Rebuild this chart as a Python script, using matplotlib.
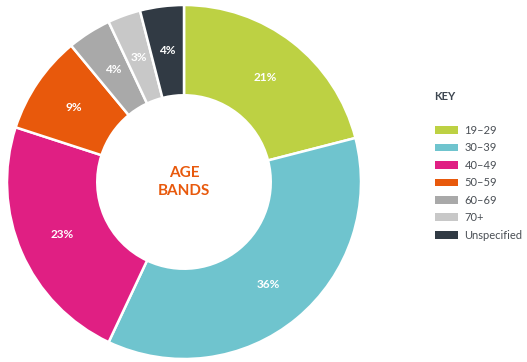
import matplotlib
matplotlib.use("Agg")
import matplotlib.pyplot as plt
from matplotlib.patches import Patch

plt.rcParams['font.family'] = ['Lato', 'DejaVu Sans']

categories = ["19–29", "30–39", "40–49", "50–59", "60–69", "70+", "Unspecified"]
values = [21, 36, 23, 9, 4, 3, 4]
colors = ["#BDD143", "#6FC4CE", "#E01F83", "#E8590C", "#A9A9A9", "#C8C8C8", "#313A44"]

W, H = 527, 362
fig = plt.figure(figsize=(W / 100, H / 100), dpi=100)
cx, cy, r = 184, 182, 177
ax = fig.add_axes([(cx - r) / W, (H - cy - r) / H, 2 * r / W, 2 * r / H])

wedges, texts, autotexts = ax.pie(
    values, colors=colors, startangle=90, counterclock=False,
    autopct=lambda p: f"{p:.0f}%", pctdistance=0.75,
    wedgeprops=dict(width=0.51, edgecolor="white", linewidth=1.8),
    textprops=dict(color="white", fontsize=8.5, fontweight="bold"),
)
ax.set_aspect("equal")
ax.set_xlim(-1, 1)
ax.set_ylim(-1, 1)
ax.axis("off")

ax.text(0, 0, "AGE\nBANDS", ha="center", va="center", color="#E8590C",
        fontsize=11, fontweight="bold", linespacing=1.45)

fig.text(434 / W, 1 - 97 / H, "KEY", ha="left", va="center", fontsize=8,
         fontweight="bold", color="#3D4650")

handles = [Patch(facecolor=c, edgecolor="none") for c in colors]
leg = fig.legend(handles, categories, loc="upper left",
                 bbox_to_anchor=(425 / W, 1 - 115 / H), frameon=False,
                 fontsize=8, handlelength=2.1, handleheight=0.7,
                 handletextpad=0.55, labelspacing=0.58, labelcolor="#4A4F55")

fig.savefig("out.png", dpi=100, facecolor="white")
